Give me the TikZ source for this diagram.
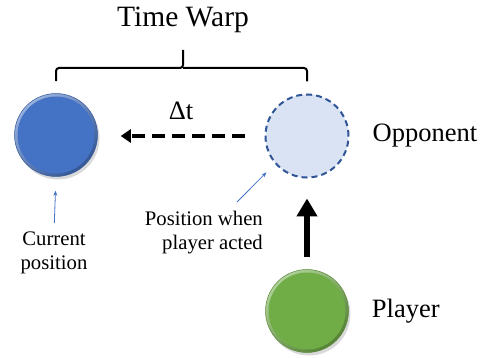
\documentclass[tikz,border=0pt]{standalone}
\usepackage{fontspec}
\setmainfont{Liberation Serif}
\usetikzlibrary{positioning, arrows.meta, shadows}
\definecolor{curblue}{HTML}{4472C4}
\definecolor{ghostfill}{HTML}{DAE3F3}
\definecolor{ghostline}{HTML}{2F5597}
\definecolor{plygreen}{HTML}{70AD47}

\begin{document}
\begin{tikzpicture}[
  x=1pt, y=-1pt,
  orb/.style={
    circle, minimum size=83pt, inner sep=0pt, draw=#1!80!black, line width=0.5pt,
    top color=#1!55!white, bottom color=#1!75!black, shading angle=40,
    drop shadow={shadow xshift=2pt, shadow yshift=-3pt, opacity=0.3},
    path picture={\fill[#1] (path picture bounding box.center) circle (38.5pt);}
  },
  ghost/.style={
    circle, minimum size=83pt, inner sep=0pt, fill=ghostfill,
    draw=ghostline, line width=2pt, dash pattern=on 6pt off 4pt
  },
  big/.style={font=\fontsize{26.5}{30}\selectfont, inner sep=0pt},
  small/.style={font=\fontsize{20.7}{23.5}\selectfont, inner sep=0pt},
  pointer/.style={draw=curblue, line width=0.8pt, -{Stealth[length=5pt, width=4pt]}},
  bracket/.style={line width=2pt, rounded corners=3pt}
]
\useasboundingbox (0,0) rectangle (482,358);

% the three positions
\node[orb=curblue] (cur) at (56,135) {};
\node[ghost] (opp) at (307,136) {};
\node[orb=plygreen] (ply) at (307,311) {};

\node[big, right=23pt of opp] (opplbl) {Opponent};
\node[big, right=23pt of ply] (plylbl) {Player};

% bracket over both opponent positions
\coordinate (tick) at (183,50);
\draw[bracket] ([yshift=12pt]cur.north) |- (183,68) -- (tick);
\draw[bracket] (183,68) -| ([yshift=12pt]opp.north);
\node[big, font=\fontsize{29.5}{32}\selectfont, above=17pt of tick] (warp) {Time Warp};

% time shift and movement arrows
\draw[line width=4pt, dash pattern=on 13pt off 7pt, -{Triangle[length=10pt, width=13pt]},
      shorten <=20pt, shorten >=23pt]
  (opp.west) -- node[big, above=14pt] (dt) {Δt} (opp.west -| cur.east);
\draw[line width=6pt, -{Triangle[length=18pt, width=20pt]}, shorten <=12pt, shorten >=20pt]
  (ply.north) -- (opp.south);

% annotations
\node[small, align=center, anchor=north] (curtxt) at (54,232) {Current\\position};
\draw[pointer, shorten <=9pt, shorten >=14pt] (curtxt.north) -- (cur.south);

\node[small, align=right, anchor=north east] (postxt) at (263,211) {Position when\\player acted};
\coordinate (posfoot) at (237,202);
\draw[pointer, shorten >=12pt] (posfoot) -- (opp.221);
\end{tikzpicture}
\end{document}
